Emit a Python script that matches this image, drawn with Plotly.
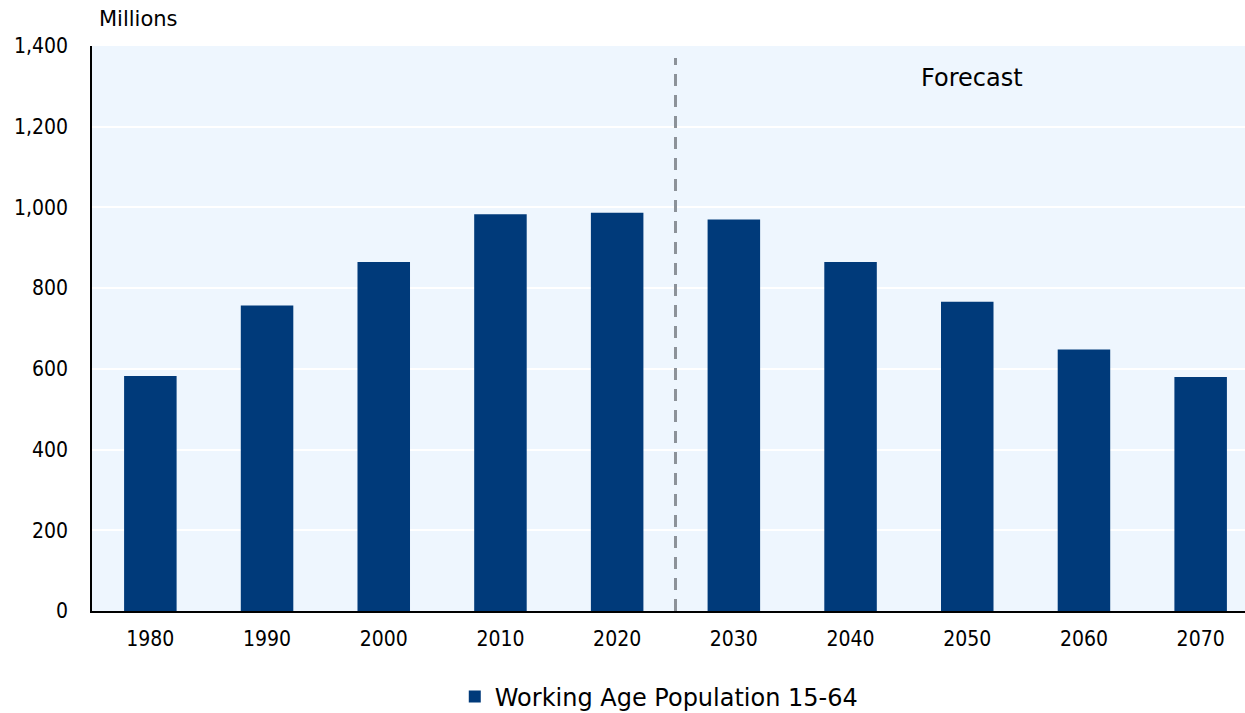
import plotly.graph_objects as go

years = ["1980", "1990", "2000", "2010", "2020", "2030", "2040", "2050", "2060", "2070"]
population = [582, 757, 865, 983, 987, 970, 865, 766, 648, 580]
series_name = "Working Age Population 15-64"
y_ticks = [0, 200, 400, 600, 800, 1000, 1200, 1400]

TICKFONT = "DejaVu Sans Condensed"
TEXTFONT = "DejaVu Sans"
BAR = "#003A7A"

fig = go.Figure()
fig.add_trace(go.Bar(
    x=years, y=population, name=series_name,
    marker=dict(color=BAR, line=dict(width=0)),
    width=0.45,
))

fig.add_shape(type="line", xref="x", yref="y", x0=4.5, x1=4.5, y0=0, y1=1370,
              line=dict(color="#8C9299", width=3, dash="12px,9px"))

fig.add_annotation(text="Forecast", xref="x", yref="y", x=7.04, y=1320,
                   showarrow=False, font=dict(family=TEXTFONT, size=24, color="#000"))
fig.add_annotation(text="Millions", xref="paper", yref="paper", x=0.0045, y=1.0,
                   yshift=27, xanchor="left", yanchor="middle", showarrow=False,
                   font=dict(family=TEXTFONT, size=21, color="#000"))

fig.update_layout(
    width=1245, height=713,
    margin=dict(l=92, r=0, t=46, b=102, autoexpand=False),
    paper_bgcolor="white", plot_bgcolor="#EEF6FE",
    font=dict(family=TICKFONT, size=21, color="#000"),
    showlegend=True,
    legend=dict(orientation="h", x=0.492, xanchor="center", y=-0.152, yanchor="middle",
                font=dict(family=TEXTFONT, size=24)),
    xaxis=dict(type="category", range=[-0.5, 9.38], showline=True, linecolor="#000",
               linewidth=1.5, ticks="outside", ticklen=8, tickcolor="rgba(0,0,0,0)",
               showgrid=False, tickfont=dict(size=21)),
    yaxis=dict(range=[0, 1400], tickvals=y_ticks, tickformat=",", showline=True,
               linecolor="#000", linewidth=1.5, gridcolor="white", gridwidth=2,
               ticks="outside", ticklen=18, tickcolor="rgba(0,0,0,0)",
               zeroline=False, tickfont=dict(size=21)),
)

fig.write_html("out.html")
